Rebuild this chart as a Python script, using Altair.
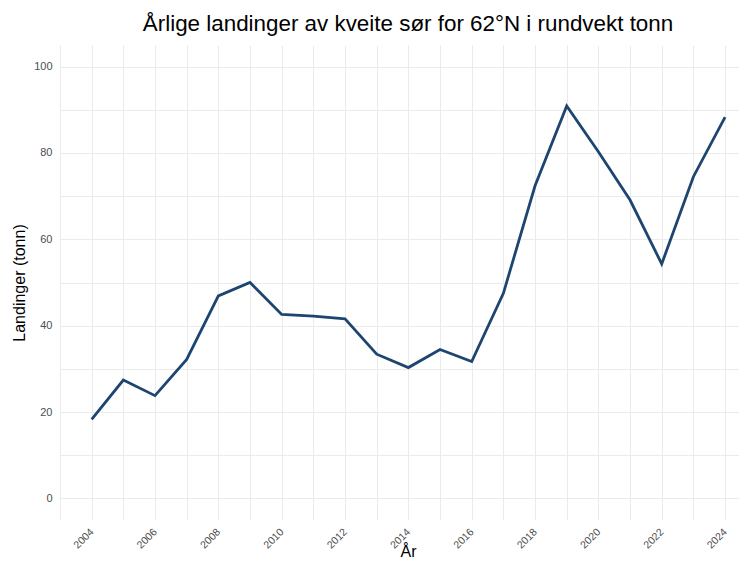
import altair as alt
import pandas as pd

years = list(range(2004, 2025))
landings = [18.3, 27.4, 23.8, 32.2, 46.9, 50.0, 42.6, 42.2, 41.6, 33.4,
            30.3, 34.5, 31.7, 47.5, 72.4, 90.9, 80.3, 69.1, 54.3, 74.5, 88.3]

df = pd.DataFrame({"year": years, "value": landings})

x_grid = list(range(2003, 2025))
y_grid = list(range(0, 101, 10))

chart = alt.Chart(df).mark_line(color="#1e4570", strokeWidth=2.8, clip=True).encode(
    x=alt.X("year:Q", title="År",
            scale=alt.Scale(domain=[2003, 2024.44], nice=False, zero=False),
            axis=alt.Axis(values=x_grid,
                          labelExpr="datum.value % 2 == 0 ? datum.value : ''",
                          labelAngle=-45, labelAlign="right", labelBaseline="middle",
                          labelPadding=10, labelFontSize=10.5, labelColor="#4d4d4d",
                          titleFontSize=16, titleFontWeight="normal", titleColor="#000000",
                          titleBaseline="alphabetic", titleY=36, titleX=348,
                          labelOverlap=False)),
    y=alt.Y("value:Q", title="Landinger (tonn)",
            scale=alt.Scale(domain=[-5, 105], nice=False, zero=False),
            axis=alt.Axis(values=y_grid,
                          labelExpr="datum.value % 20 == 0 ? datum.value : ''",
                          labelPadding=8, labelFontSize=11, labelColor="#4d4d4d",
                          titleFontSize=16, titleFontWeight="normal", titleColor="#000000",
                          titlePadding=6, labelOverlap=False)),
).properties(
    width=679,
    height=475,
    title=alt.TitleParams("Årlige landinger av kveite sør for 62°N i rundvekt tonn",
                          fontSize=22.4, fontWeight="normal", color="#000000",
                          anchor="middle", offset=10, dx=8.5),
    autosize=alt.AutoSizeParams(type="none"),
    padding={"left": 52, "top": 37, "right": 0, "bottom": 38},
).configure_view(
    stroke=None
).configure_axis(
    grid=True, gridColor="#ebebeb", gridWidth=1, domain=False, ticks=False,
    labelFont="Liberation Sans", titleFont="Liberation Sans"
).configure_title(
    font="Liberation Sans"
)

chart.save("out.html", embed_options={"renderer": "svg", "actions": False})
